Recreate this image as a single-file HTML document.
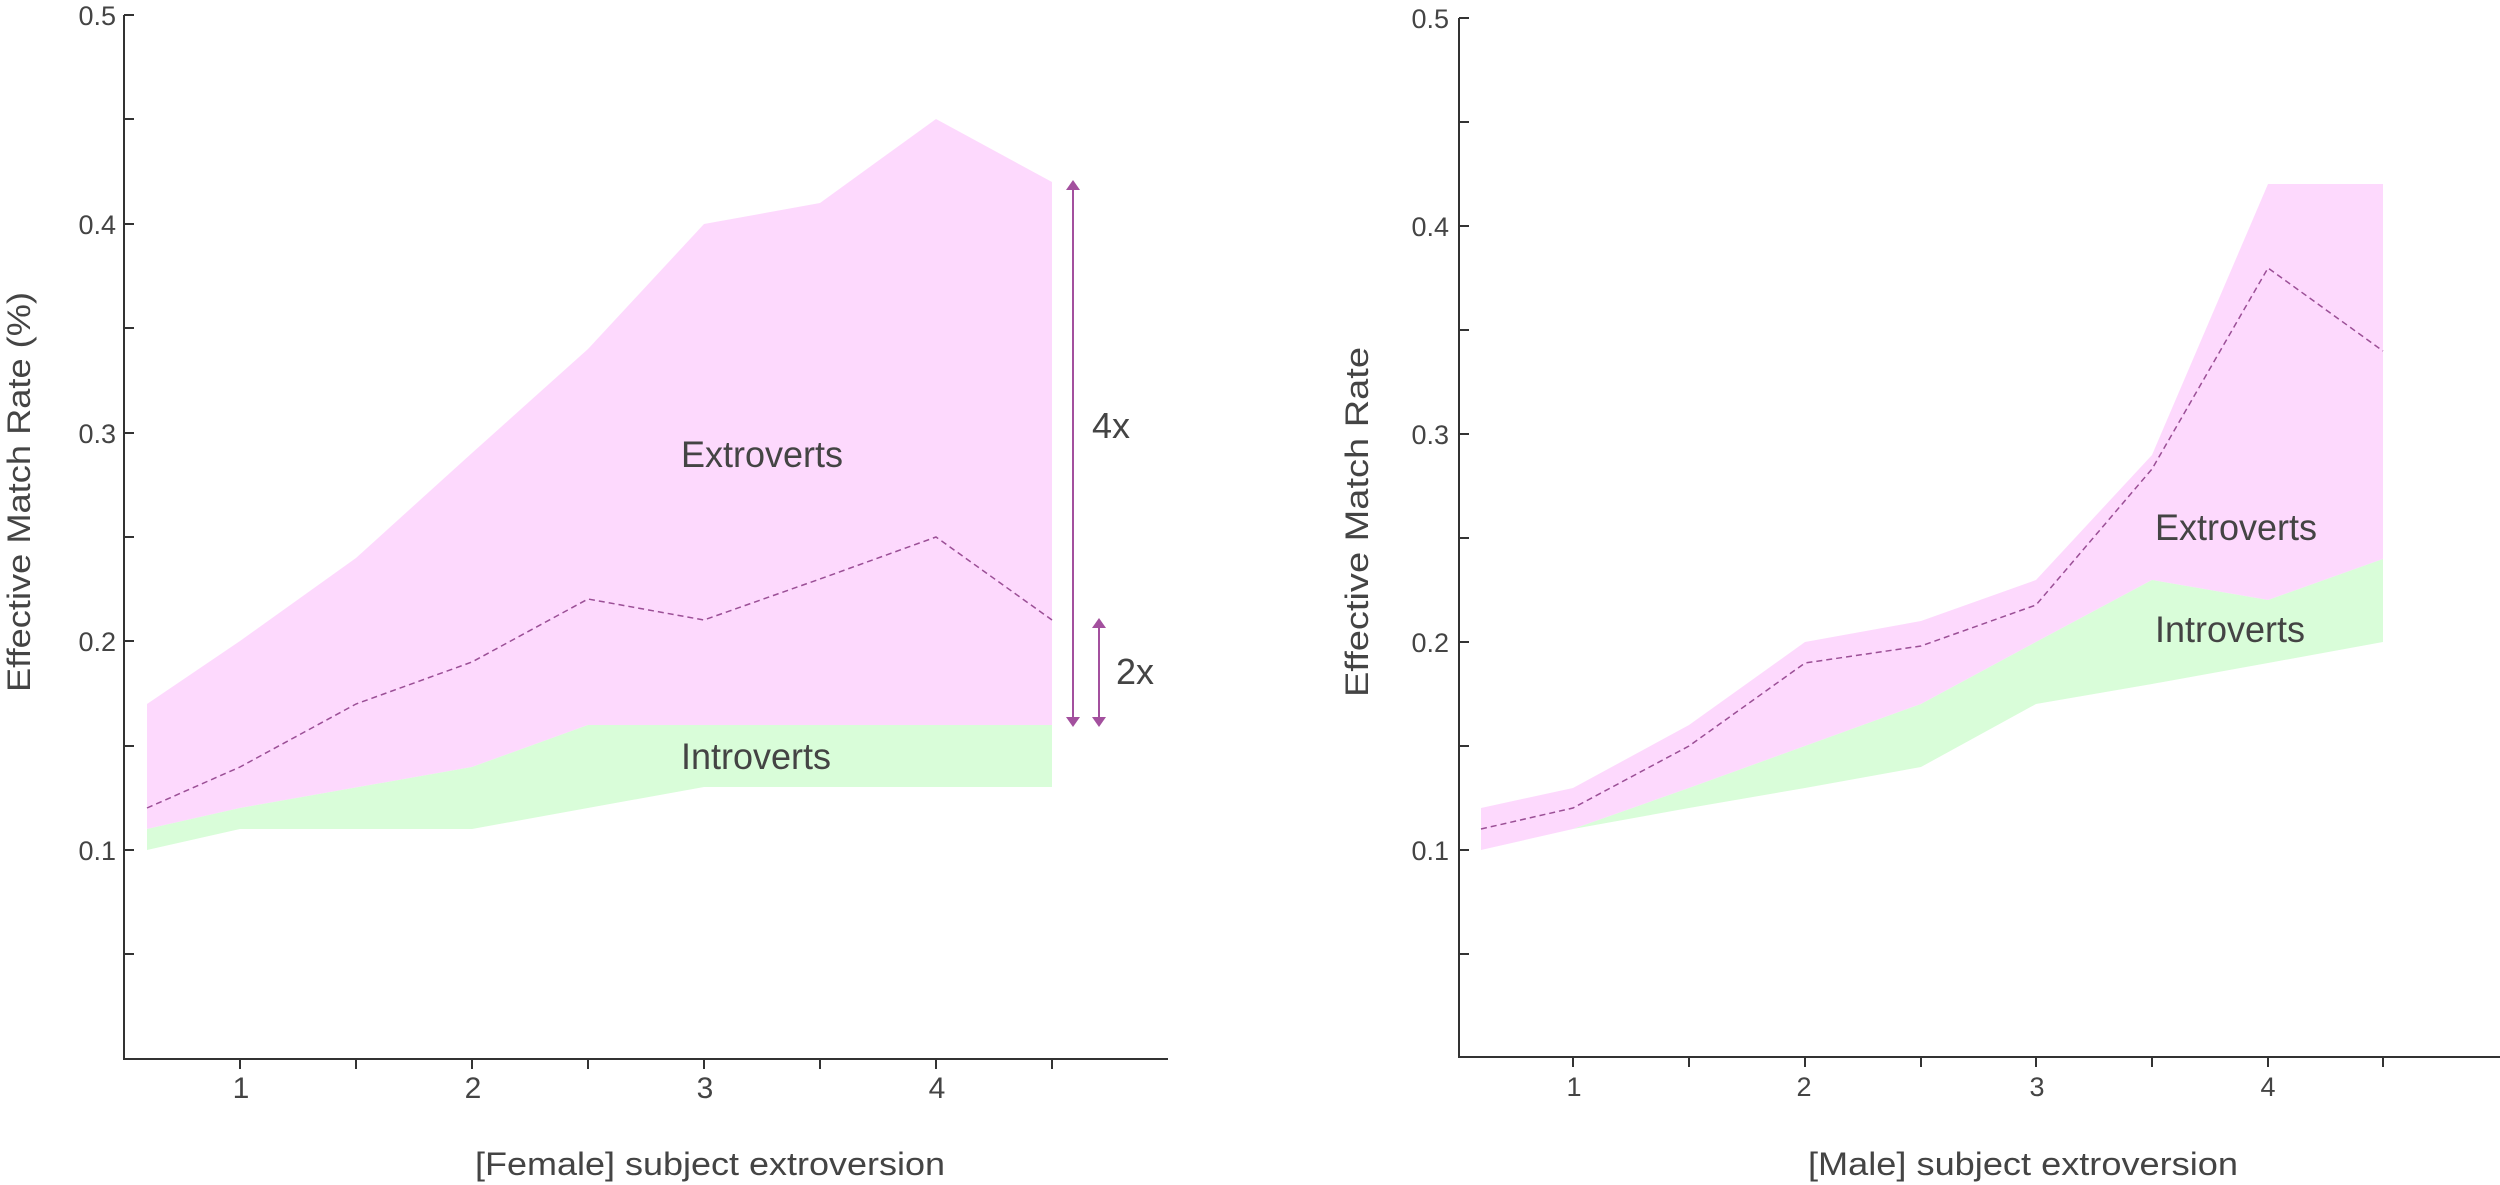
<!DOCTYPE html>
<html><head><meta charset="utf-8"><style>html,body{margin:0;padding:0;background:#fff}svg{display:block}</style></head>
<body>
<svg width="2500" height="1185" viewBox="0 0 2500 1185" xmlns="http://www.w3.org/2000/svg" font-family="Liberation Sans, sans-serif" fill="#444">
<!-- LEFT PANEL -->
<polygon fill="#fdd9fd" points="147,704 240,641 356,558 472,453 588,349 704,224 820,203 936,119 1052,182 1052,725 588,725 472,767 240,808 147,829"/>
<polygon fill="#d9fdd9" points="147,829 240,808 472,767 588,725 1052,725 1052,787 704,787 472,829 240,829 147,850"/>
<polyline fill="none" stroke="#9b4f96" stroke-width="1.5" stroke-dasharray="6,4" points="147,808 240,767 356,704 472,662 588,599 704,620 820,579 936,537 1052,620"/>
<g stroke="#333" stroke-width="2" fill="none">
<path d="M124,15V1059H1168"/>
<path d="M124,15h10M124,119h10M124,224h10M124,328h10M124,433h10M124,537h10M124,641h10M124,746h10M124,850h10M124,954h10"/>
<path d="M240,1059v10M356,1059v10M472,1059v10M588,1059v10M704,1059v10M820,1059v10M936,1059v10M1052,1059v10"/>
</g>
<g font-size="27" text-anchor="end">
<text x="116" y="25">0.5</text><text x="116" y="234">0.4</text><text x="116" y="443">0.3</text><text x="116" y="651">0.2</text><text x="116" y="860">0.1</text>
</g>
<g font-size="30" text-anchor="middle">
<text x="241" y="1098">1</text><text x="473" y="1098">2</text><text x="705" y="1098">3</text><text x="937" y="1098">4</text>
</g>
<text x="710" y="1175" font-size="32" text-anchor="middle" textLength="470" lengthAdjust="spacingAndGlyphs">[Female] subject extroversion</text>
<text transform="translate(30,492) rotate(-90)" font-size="32" text-anchor="middle" textLength="400" lengthAdjust="spacingAndGlyphs">Effective Match Rate (%)</text>
<text x="681" y="467" font-size="37" textLength="162" lengthAdjust="spacingAndGlyphs">Extroverts</text>
<text x="681" y="769" font-size="37" textLength="150" lengthAdjust="spacingAndGlyphs">Introverts</text>
<g stroke="#a3509e" stroke-width="2" fill="#a3509e">
<line x1="1073" y1="188" x2="1073" y2="719"/>
<line x1="1099" y1="626" x2="1099" y2="719"/>
<polygon stroke="none" points="1073,180 1066,190 1080,190"/>
<polygon stroke="none" points="1073,727 1066,717 1080,717"/>
<polygon stroke="none" points="1099,618 1092,628 1106,628"/>
<polygon stroke="none" points="1099,727 1092,717 1106,717"/>
</g>
<text x="1092" y="438" font-size="36">4x</text>
<text x="1116" y="684" font-size="36">2x</text>

<!-- RIGHT PANEL -->
<polygon fill="#fdd9fd" points="1481,808 1573,788 1689,725 1805,642 1921,621 2036,580 2152,455 2268,184 2383,184 2383,559 2268,600 2152,580 2036,642 1921,704 1805,746 1689,788 1573,829 1481,850"/>
<polygon fill="#d9fdd9" points="1573,829 1689,788 1805,746 1921,704 2036,642 2152,580 2268,600 2383,559 2383,642 2268,663 2152,684 2036,704 1921,767 1805,788 1689,808"/>
<polyline fill="none" stroke="#9b4f96" stroke-width="1.5" stroke-dasharray="6,4" points="1481,829 1573,808 1689,746 1805,663 1921,646 2036,605 2152,469 2268,268 2383,351"/>
<g stroke="#333" stroke-width="2" fill="none">
<path d="M1459,18V1057H2500"/>
<path d="M1459,18h10M1459,122h10M1459,226h10M1459,330h10M1459,434h10M1459,538h10M1459,642h10M1459,746h10M1459,850h10M1459,954h10"/>
<path d="M1573,1057v10M1689,1057v10M1805,1057v10M1921,1057v10M2036,1057v10M2152,1057v10M2268,1057v10M2383,1057v10"/>
</g>
<g font-size="27" text-anchor="end">
<text x="1449" y="28">0.5</text><text x="1449" y="236">0.4</text><text x="1449" y="444">0.3</text><text x="1449" y="652">0.2</text><text x="1449" y="860">0.1</text>
</g>
<g font-size="27" text-anchor="middle">
<text x="1574" y="1096">1</text><text x="1804" y="1096">2</text><text x="2037" y="1096">3</text><text x="2268" y="1096">4</text>
</g>
<text x="2023" y="1175" font-size="32" text-anchor="middle" textLength="430" lengthAdjust="spacingAndGlyphs">[Male] subject extroversion</text>
<text transform="translate(1368,522) rotate(-90)" font-size="32" text-anchor="middle" textLength="350" lengthAdjust="spacingAndGlyphs">Effective Match Rate</text>
<text x="2155" y="540" font-size="37" textLength="162" lengthAdjust="spacingAndGlyphs">Extroverts</text>
<text x="2155" y="642" font-size="37" textLength="150" lengthAdjust="spacingAndGlyphs">Introverts</text>
</svg>
</body></html>
